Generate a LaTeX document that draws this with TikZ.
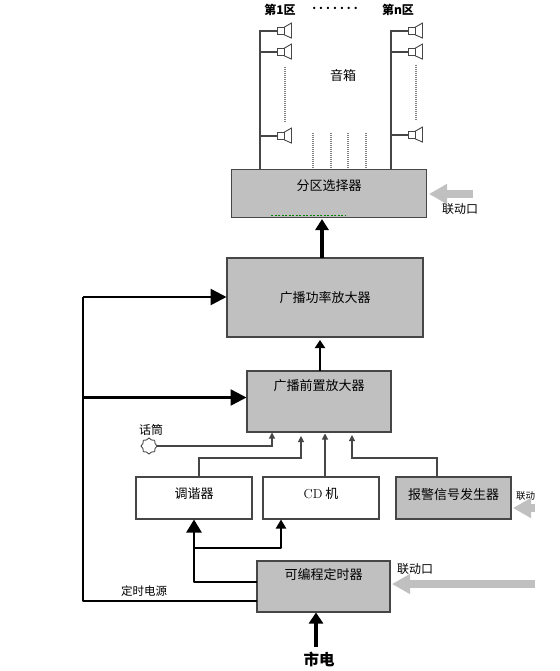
\documentclass[tikz,border=0pt]{standalone}
\usepackage{fontspec}
\newfontfamily\cjk{Noto Sans CJK SC}
\usepackage{tikz}
\usetikzlibrary{arrows.meta,shapes.symbols}
\definecolor{boxgray}{RGB}{192,192,192}
\definecolor{linegray}{RGB}{70,70,70}
\tikzset{
  >={Triangle[length=6pt,width=6pt]},
  box/.style={rectangle,draw=linegray,line width=1.2pt,inner sep=0pt,font=\cjk\fontsize{13}{13}\selectfont},
  gbox/.style={box,fill=boxgray},
  tup/.style={text height=9pt,text depth=#1},
  lb/.style={inner sep=0pt,font=\cjk\fontsize{12}{12}\selectfont},
  spk/.style={rectangle,draw=linegray,fill=white,line width=0.9pt,minimum width=7pt,minimum height=7pt,inner sep=0pt},
  wire/.style={draw=linegray,line width=1.1pt},
  bus/.style={draw=black,line width=2.5pt,line join=round},
  dots/.style={draw=gray,line width=1.3pt,dash pattern=on 1pt off 1pt},
  harrow/.style={-{Triangle[length=16pt,width=16pt]},bus},
  gharrow/.style={-{Triangle[length=18pt,width=19pt]},draw=boxgray,line width=8pt},
}
\begin{document}
\begin{tikzpicture}[x=1pt,y=-1pt]
\useasboundingbox (0,0) rectangle (559,671);
% boxes
\node[gbox,tup=15pt,minimum width=195pt,minimum height=48pt] (sel) at (329,193.5){分区选择器};
\node[gbox,minimum width=196pt,minimum height=79pt] (pwr) at (325,297.5){广播功率放大器};
\node[gbox,tup=31pt,minimum width=144pt,minimum height=61pt] (pre) at (319,401.5){广播前置放大器};
\node[box,tup=8pt,minimum width=116pt,minimum height=42pt] (tun) at (194,498){调谐器};
\node[box,tup=8pt,minimum width=116pt,minimum height=42pt] (cd) at (321,498){{\rmfamily CD} 机};
\node[gbox,tup=6pt,minimum width=115pt,minimum height=42pt] (alm) at (453.5,498){报警信号发生器};
\node[gbox,tup=23pt,minimum width=133pt,minimum height=51pt] (tim) at (323.5,586.5){可编程定时器};
\node[cloud,draw=linegray,line width=0.9pt,cloud puffs=8,minimum width=16pt,minimum height=16pt,inner sep=0pt] (mic) at (149,446){};
% labels
\node[lb] (z1) at (280,10){\bfseries 第1区};
\node[lb,anchor=base,font=\cjk\bfseries\fontsize{11}{11}\selectfont\addfontfeatures{LetterSpace=28}] (zd) at (335,10){.......};
\node[lb] (zn) at (398,10){\bfseries 第n区}; \node[lb,font=\cjk\fontsize{13}{13}\selectfont] (yx) at (343,76){音箱};
\node[lb] (ld1) at (460,209){联动口}; \node[lb] (ld2) at (415,569){联动口};
\node[lb,anchor=west,font=\cjk\fontsize{9.5}{10}\selectfont] (ld3) at (516,496){联动}; \node[lb] (ht) at (151,430){话筒};
\node[lb,font=\cjk\fontsize{11.5}{12}\selectfont] (ds) at (144,591){定时电源};
\node[inner sep=0pt,font=\cjk\bfseries\fontsize{15.5}{16}\selectfont] (sd) at (319,659){市电};
% speakers
\foreach \nm/\x/\y in {sa/280.5/31,sb/280.5/52,sc/280.5/136,sd1/411.5/31,se/411.5/52,sf/411.5/135}{
  \node[spk] (\nm) at (\x,\y){};
  \draw[draw=linegray,fill=white,line width=0.9pt] (\nm.north east)--++(7,-4)--++(0,15)--(\nm.south east)--cycle;
}
\coordinate (bl) at (260,169); \coordinate (br) at (391,169);
\draw[wire] (bl)--(260,31)--(sa.west); \draw[wire] (260,52)--(sb.west); \draw[wire] (260,136)--(sc.west);
\draw[wire] (br)--(391,31)--(sd1.west); \draw[wire] (391,52)--(se.west); \draw[wire] (391,135)--(sf.west);
\draw[dots] (285,67)--(285,122); \draw[dots] (416,65)--(416,121);
\foreach \x in {313,331,348,366}{\draw[dots] (\x,133)--(\x,169);}
\draw[draw=green!50!black,line width=1pt,dash pattern=on 2pt off 1.5pt] (271,215)--(346,215);
% signal path
\draw[-{Triangle[length=11pt,width=13pt]},draw=black,line width=3.5pt] (322,257.5)--(322,219);
\draw[-{Triangle[length=8pt,width=10pt]},draw=black,line width=2pt] (320,370.5)--(320,340);
\coordinate (a1) at (272,432.5); \coordinate (a2) at (301,436); \coordinate (a3) at (325,433.5); \coordinate (a4) at (352,435);
\draw[wire,->] (mic.east)--(272,446)--(a1);
\draw[wire,->] (199,477)--(199,458)--(301,458)--(a2);
\draw[wire,->] (325,477)--(a3);
\draw[wire,->] (437,477)--(437,458)--(352,458)--(a4);
% timer outputs
\draw[bus,-{Triangle[length=13pt,width=15pt]}] (257,582)--(194,582)--(194,519.5);
\draw[bus,-{Triangle[length=9pt,width=10pt]}] (194,548)--(281,548)--(281,519.5);
\draw[bus] (257,601)--(83,601)--(83,296.5);
\draw[harrow] (83,297)--(226.5,297);
\draw[harrow] (83,397.5)--(246.5,397.5);
\coordinate (ms) at (316,647);
\draw[-{Triangle[length=11pt,width=14pt]},draw=black,line width=3.5pt] (ms)--(316,612.5);
% linkage inputs
\coordinate (g1) at (473,194); \coordinate (g2) at (535,508); \coordinate (g3) at (535,584);
\draw[gharrow] (g1)--(429,194);
\draw[gharrow] (g2)--(513,508);
\draw[gharrow] (g3)--(392,584);
\end{tikzpicture}
\end{document}
